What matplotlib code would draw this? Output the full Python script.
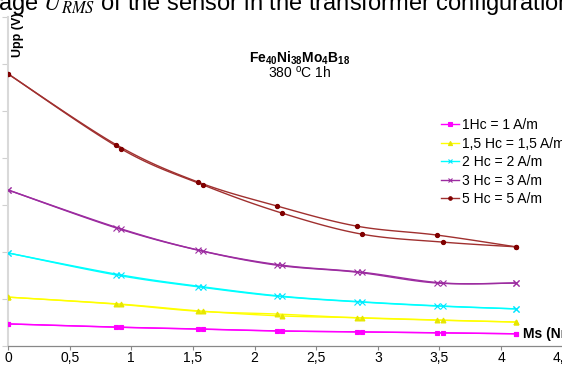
import numpy as np
import matplotlib
matplotlib.use("Agg")
import matplotlib.pyplot as plt
from matplotlib.lines import Line2D

plt.rcParams["font.family"] = ["Liberation Sans", "DejaVu Sans"]
plt.rcParams["mathtext.fontset"] = "custom"
plt.rcParams["mathtext.rm"] = "Liberation Sans"
plt.rcParams["mathtext.bf"] = "Liberation Sans:bold"
plt.rcParams["mathtext.it"] = "Liberation Sans:italic"

# Ms values (two passes per field, slightly offset)
ms_a = [0, 0.88, 1.54, 2.18, 2.83, 3.48, 4.12]
ms_b = [0, 0.92, 1.58, 2.22, 2.87, 3.53, 4.12]

# Upp (V) per excitation field
upp_1hc_a = [0.47, 0.40, 0.36, 0.32, 0.30, 0.28, 0.26]
upp_1hc_b = [0.47, 0.40, 0.36, 0.32, 0.30, 0.28, 0.26]
upp_15hc_a = [1.04, 0.89, 0.74, 0.68, 0.60, 0.55, 0.51]
upp_15hc_b = [1.04, 0.89, 0.74, 0.64, 0.60, 0.55, 0.51]
upp_2hc_a = [1.98, 1.51, 1.26, 1.06, 0.94, 0.85, 0.79]
upp_2hc_b = [1.98, 1.51, 1.26, 1.06, 0.94, 0.85, 0.79]
upp_3hc_a = [3.32, 2.51, 2.04, 1.72, 1.57, 1.34, 1.34]
upp_3hc_b = [3.32, 2.49, 2.02, 1.72, 1.57, 1.34, 1.34]
upp_5hc_a = [5.79, 4.28, 3.49, 2.98, 2.55, 2.36, 2.11]
upp_5hc_b = [5.79, 4.19, 3.43, 2.83, 2.38, 2.21, 2.11]

labels = ["1Hc = 1 A/m", "1,5 Hc = 1,5 A/m", "2 Hc = 2 A/m",
          "3 Hc = 3 A/m", "5 Hc = 5 A/m"]
x_ticks = [0, 0.5, 1, 1.5, 2, 2.5, 3, 3.5, 4, 4.5]
x_ticklabels = ["0", "0,5", "1", "1,5", "2", "2,5", "3", "3,5", "4", "4,5"]


def smooth(x, y, n=20):
    """Excel-like smoothed line (Catmull-Rom through the data points)."""
    x = np.asarray(x, float)
    y = np.asarray(y, float)
    px = np.concatenate([[x[0]], x, [x[-1]]])
    py = np.concatenate([[y[0]], y, [y[-1]]])
    xs, ys = [], []
    t = np.linspace(0, 1, n)
    for i in range(1, len(px) - 2):
        for p, out in ((px, xs), (py, ys)):
            p0, p1, p2, p3 = p[i - 1], p[i], p[i + 1], p[i + 2]
            out.extend(0.5 * ((2 * p1) + (-p0 + p2) * t
                              + (2 * p0 - 5 * p1 + 4 * p2 - p3) * t ** 2
                              + (-p0 + 3 * p1 - 3 * p2 + p3) * t ** 3))
    return np.array(xs), np.array(ys)


series = [
    (upp_1hc_a, upp_1hc_b, "#ff00ff", "#ff00ff", "s", 3),
    (upp_15hc_a, upp_15hc_b, "#ffff00", "#e6e600", "^", 3.5),
    (upp_2hc_a, upp_2hc_b, "#00ffff", "#00e5ff", "x", 4),
    (upp_3hc_a, upp_3hc_b, "#9c2ca0", "#9c2ca0", "x", 4),
    (upp_5hc_a, upp_5hc_b, "#a0302f", "#800000", "o", 3),
]

fig = plt.figure(figsize=(5.62, 3.67), dpi=100)
ax = fig.add_axes([8 / 562, 21 / 367, 567 / 562, 329 / 367])

handles = []
for (ya, yb, lc, mc, mk, ms), lab in zip(series, labels):
    for xs_, ys_ in ((ms_a, ya), (ms_b, yb)):
        sx, sy = smooth(xs_, ys_)
        ax.plot(sx, sy, color=lc, lw=1.0, zorder=2)
        ax.plot(xs_, ys_, ls="none", marker=mk, color=mc, ms=ms, mew=0.8,
                zorder=3)
    handles.append(Line2D([], [], color=lc, lw=1.0, marker=mk, ms=ms - 0.5,
                          mfc=mc, mec=mc, mew=0.8))

ax.set_xlim(0, 4.6)
ax.set_ylim(0, 7)
ax.set_xticks(x_ticks)
ax.set_xticklabels(x_ticklabels, fontsize=10)
ax.set_yticks(np.arange(0, 8, 1))
ax.set_yticklabels([])
ax.tick_params(axis="x", length=3, width=0.8, color="#888888", pad=0.5)
ax.tick_params(axis="y", length=4, width=0.8, color="#d0d0d0")
for s in ("top", "right"):
    ax.spines[s].set_visible(False)
ax.spines["left"].set_color("#d9d9d9")
ax.spines["left"].set_linewidth(1.5)
ax.spines["bottom"].set_color("#888888")
ax.spines["bottom"].set_linewidth(0.9)
ax.patch.set_alpha(0)

fig.legend(handles, labels, loc="upper left",
           bbox_to_anchor=(441 / 562, 1 - 118 / 367), frameon=False,
           fontsize=10, handlelength=1.3, handletextpad=0.2,
           labelspacing=0.33, borderaxespad=0, borderpad=0)

fig.text(300 / 562, 1 - 63 / 367, r"$\mathbf{Fe_{40}Ni_{38}Mo_{4}B_{18}}$",
         ha="center", va="baseline", fontsize=10)
fig.text(300 / 562, 1 - 78 / 367, r"380 $^{\mathrm{o}}$C 1h",
         ha="center", va="baseline", fontsize=10)
fig.text(523 / 562, 1 - 338 / 367, "Ms (Nm)", ha="left", va="baseline",
         fontsize=10, fontweight="bold")
fig.text(18 / 562, 1 - 35 / 367, "Upp (V)", ha="center", va="center",
         rotation=90, fontsize=9, fontweight="bold")

# caption of the page, cut off at the top edge
fig.text(-2 / 562, 1 - 10 / 367,
         r"age $U_{RMS}$ of the sensor in the transformer configuration",
         ha="left", va="baseline", fontsize=17, math_fontfamily="stix")

fig.savefig("out.png", dpi=100)
